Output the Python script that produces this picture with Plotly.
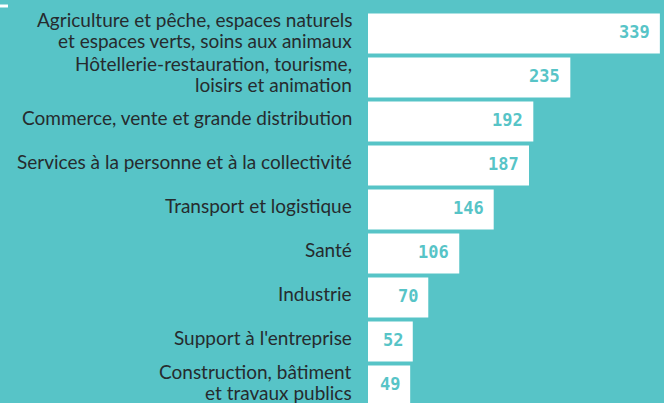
import plotly.graph_objects as go

categories = [
    "Agriculture et pêche, espaces naturels<br>et espaces verts, soins aux animaux",
    "Hôtellerie-restauration, tourisme,<br>loisirs et animation",
    "Commerce, vente et grande distribution",
    "Services à la personne et à la collectivité",
    "Transport et logistique",
    "Santé",
    "Industrie",
    "Support à l'entreprise",
    "Construction, bâtiment<br>et travaux publics",
]
values = [339, 235, 192, 187, 146, 106, 70, 52, 49]

BG = "#57C4C7"
TXT = "#262b2e"
positions = list(range(len(values)))

fig = go.Figure(
    go.Bar(
        x=values,
        y=positions,
        orientation="h",
        marker=dict(color="white", line=dict(width=0)),
        hoverinfo="skip",
    )
)

annotations = [
    dict(
        x=v, y=p, xref="x", yref="y", text=str(v), showarrow=False,
        xanchor="right", yanchor="middle", xshift=-8, yshift=1,
        font=dict(family="DejaVu Sans Mono", size=17, color=BG, weight="bold"),
    )
    for v, p in zip(values, positions)
]

LINE_GAP = 21
for cat, p in zip(categories, positions):
    lines = cat.split("<br>")
    n = len(lines)
    for k, line in enumerate(lines):
        annotations.append(dict(
            x=0, y=p, xref="paper", yref="y", text=line, showarrow=False,
            xanchor="right", yanchor="middle", xshift=-14,
            yshift=((n - 1) / 2 - k) * LINE_GAP + 3.5,
            font=dict(family="Lato", size=19, color=TXT),
        ))

fig.update_layout(
    width=664,
    height=403,
    paper_bgcolor=BG,
    plot_bgcolor=BG,
    margin=dict(l=368, r=0, t=0, b=0),
    bargap=0.09,
    showlegend=False,
    font=dict(family="Lato", size=19, color=TXT),
    annotations=annotations,
    shapes=[
        dict(type="line", xref="paper", yref="paper", x0=-368 / 296, x1=-360 / 296,
             y0=1 - 6 / 403, y1=1 - 6 / 403, line=dict(color="white", width=3)),
    ],
)
fig.update_xaxes(range=[0, 343.8], visible=False, showgrid=False, zeroline=False)
fig.update_yaxes(
    range=[8.398, -0.761],
    tickmode="array",
    tickvals=positions,
    ticktext=categories,
    showticklabels=False,
    showgrid=False,
    zeroline=False,
    showline=False,
    ticks="",
)

fig.write_html(
    "out.html",
    config={"displayModeBar": False},
    post_script="document.body.style.margin='0';document.body.style.background='" + BG + "';",
)
